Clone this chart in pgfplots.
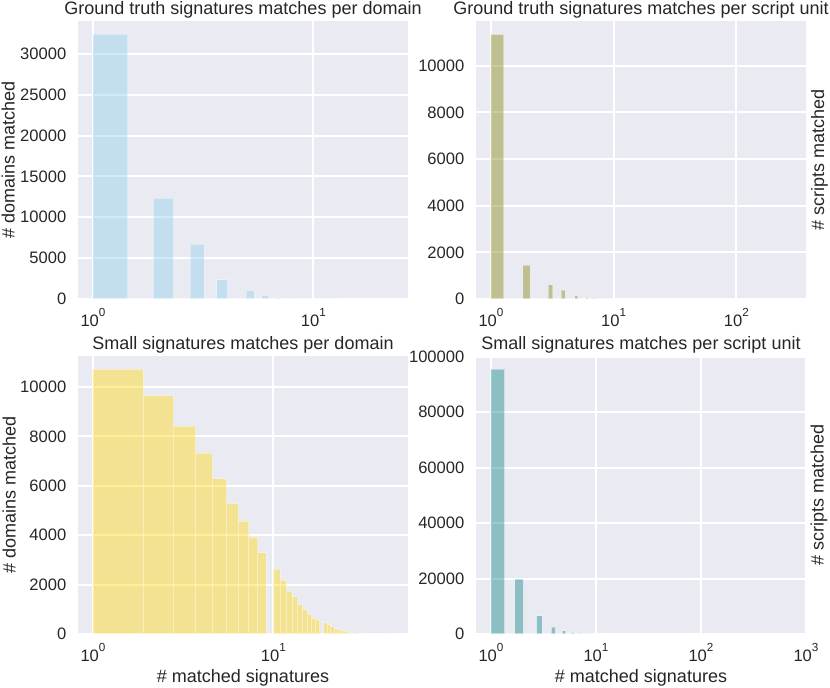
\documentclass[border=0pt]{standalone}
\usepackage{fontspec}
\setmainfont{Liberation Sans}
\usepackage{pgfplots}
\pgfplotsset{compat=1.18}
\definecolor{bg}{RGB}{234,234,242}
\definecolor{txt}{RGB}{38,38,38}
\definecolor{skyc}{RGB}{135,206,235}
\definecolor{olivec}{RGB}{128,128,0}
\definecolor{goldc}{RGB}{255,215,0}
\definecolor{tealc}{RGB}{0,128,128}
\newcommand\tenp[1]{10\raisebox{5pt}{\fontsize{5.85pt}{6pt}\selectfont #1}}
\pgfplotsset{
  every axis title shift=0pt,
  sns/.style={
    scale only axis, width=165pt, height=139pt, anchor=south west,
    ymin=0,
    axis background/.style={fill=bg},
    axis line style={draw=none},
    major tick length=0pt, minor tick length=0pt,
    xminorticks=false, yminorticks=false,
    xmajorgrids, ymajorgrids,
    major grid style={white, line width=1pt},
    tick label style={font=\fontsize{8.28pt}{9.9pt}\selectfont, text=txt},
    yticklabel style={anchor=east, inner sep=0pt, xshift=-5.65pt},
    xticklabel style={anchor=north, inner sep=0pt, yshift=-4.65pt},
    /pgf/number format/assume math mode=true,
    /pgf/number format/fixed,
    /pgf/number format/precision=0,
    /pgf/number format/1000 sep={},
    scaled y ticks=false,
    title style={font=\fontsize{9pt}{10.8pt}\selectfont, text=txt, at={(axis description cs:0.5,1.0414)}, anchor=center, inner sep=0pt},
    label style={font=\fontsize{9pt}{10.8pt}\selectfont, text=txt, inner sep=0pt},
    xlabel style={at={(axis description cs:0.5,-0.1565)}, anchor=center},
  },
  hbar/.style={ybar interval, fill=#1, fill opacity=0.4, draw=white, draw opacity=0.4, line width=0.5pt},
}
\begin{document}
\begin{tikzpicture}
\useasboundingbox (0,0) rectangle (415pt,344pt);
% top-left
\begin{semilogxaxis}[sns, at={(39pt,194.5pt)},
  xmin=0.855, xmax=26.9, ymax=34020,
  xtick={1,10}, xticklabels={\tenp{0},\tenp{1}},
  ytick={0,5000,10000,15000,20000,25000,30000},
  title={Ground truth signatures matches per domain},
  ylabel={\# domains matched},
  ylabel style={at={(axis description cs:-0.2112,0.5)}, anchor=center}]
\addplot[hbar=skyc] table[x=x,y=y] {
x y
1 32400
1.44 0
1.88 12350
2.32 0
2.76 6700
3.20 0
3.64 2330
4.08 0
4.96 1020
5.40 0
5.84 430
6.28 0
6.72 180
7.16 0
7.60 90
8.04 0
8.92 40
9.36 0
9.80 20
10.24 0
10.68 10
11.12 0
12.00 6
12.44 0
12.88 4
13.32 0
};
\end{semilogxaxis}
% top-right
\begin{semilogxaxis}[sns, at={(238pt,194.5pt)},
  xmin=0.755, xmax=370, ymax=11920,
  xtick={1,10,100}, xticklabels={\tenp{0},\tenp{1},\tenp{2}},
  ytick={0,2000,4000,6000,8000,10000},
  title={Ground truth signatures matches per script unit},
  ylabel={\# scripts matched},
  ylabel style={at={(axis description cs:1.0409,0.5)}, anchor=center}]
\addplot[hbar=olivec] table[x=x,y=y] {
x y
1 11350
1.274 0
1.822 1450
2.096 0
2.918 610
3.192 0
3.740 385
4.014 0
4.836 130
5.110 0
5.932 60
6.206 0
6.754 30
7.028 0
7.850 15
8.124 0
8.946 8
9.220 0
9.768 5
10.042 0
};
\end{semilogxaxis}
% bottom-left
\begin{semilogxaxis}[sns, at={(39pt,27pt)},
  xmin=0.826, xmax=55.7, ymax=11256,
  xtick={1,10}, xticklabels={\tenp{0},\tenp{1}},
  ytick={0,2000,4000,6000,8000,10000},
  title={Small signatures matches per domain},
  xlabel={\# matched signatures},
  ylabel={\# domains matched},
  ylabel style={at={(axis description cs:-0.2085,0.5)}, anchor=center}]
\addplot[hbar=goldc] table[x=x,y=y] {
x y
1.0 10720
1.9 9650
2.8 8420
3.7 7320
4.6 6280
5.5 5280
6.4 4570
7.3 3920
8.2 3290
9.1 0
10.0 2630
10.9 2180
11.8 1740
12.7 1500
13.6 1200
14.5 980
15.4 800
16.3 640
17.2 570
18.1 0
19.0 460
19.9 370
20.8 290
21.7 220
22.6 170
23.5 130
24.4 100
25.3 75
26.2 55
27.1 0
28.0 40
28.9 30
29.8 22
30.7 16
31.6 12
32.5 9
33.4 6
34.3 4
35.2 3
36.1 0
37.0 2
37.9 2
38.8 1
39.7 1
40.6 1
41.5 0
42.4 1
43.3 0
44.2 0
45.1 1
46.0 0
};
\end{semilogxaxis}
% bottom-right
\begin{semilogxaxis}[sns, at={(238pt,27pt)},
  xmin=0.72, xmax=1000, ymax=100275,
  xtick={1,10,100,1000}, xticklabels={\tenp{0},\tenp{1},\tenp{2},\tenp{3}},
  ytick={0,20000,40000,60000,80000,100000},
  title={Small signatures matches per script unit},
  xlabel={\# matched signatures},
  ylabel={\# scripts matched},
  ylabel style={at={(axis description cs:1.0394,0.5)}, anchor=center}]
\addplot[hbar=tealc] table[x=x,y=y] {
x y
1 95500
1.345 0
1.69 19800
2.035 0
2.725 6500
3.07 0
3.76 2500
4.105 0
4.795 1150
5.14 0
5.83 500
6.175 0
6.865 250
7.21 0
7.9 120
8.245 0
8.935 60
9.28 0
9.97 30
10.315 0
};
\end{semilogxaxis}
\end{tikzpicture}
\end{document}
